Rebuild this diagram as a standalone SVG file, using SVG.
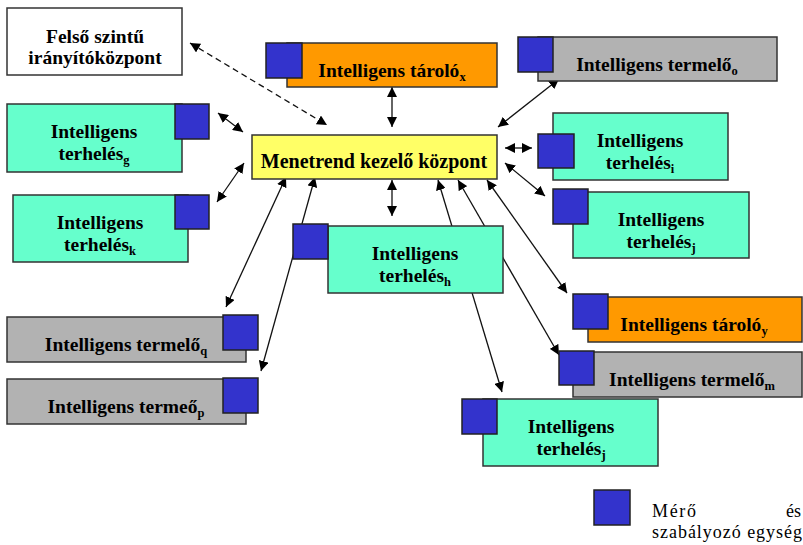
<svg xmlns="http://www.w3.org/2000/svg" width="803" height="545" viewBox="0 0 803 545">
<defs>
<marker id="ah" viewBox="0 0 10 10" refX="10" refY="5" markerWidth="10" markerHeight="10" markerUnits="userSpaceOnUse" orient="auto-start-reverse">
<path d="M0,0 L10,5 L0,10 z" fill="#000"/>
</marker>
<style>
.box{stroke:#333;stroke-width:1.5}
.white{fill:#fff}
.teal{fill:#66FFCC}
.orange{fill:#FF9900}
.gray{fill:#B2B2B2}
.yellow{fill:#FFFF66}
.sq{fill:#3333CC;stroke:#222;stroke-width:1.5}
.lbl{font-weight:bold;font-size:19.5px;fill:#000;text-anchor:middle}
.sub{font-size:12.5px}
.leg{font-size:18px;fill:#000}
.con{stroke:#111;stroke-width:1.3;fill:none;marker-start:url(#ah);marker-end:url(#ah)}
.dash{stroke-dasharray:6,4}
</style>
</defs>
<g id="connectors">
<line class="con dash" x1="190" y1="43" x2="327" y2="125"/>
<line class="con" x1="392" y1="87" x2="392" y2="127"/>
<line class="con" x1="559" y1="79" x2="498" y2="127"/>
<line class="con" x1="218" y1="113" x2="243" y2="132"/>
<line class="con" x1="505" y1="148" x2="532" y2="148"/>
<line class="con" x1="505" y1="163" x2="545" y2="196"/>
<line class="con" x1="217" y1="202" x2="244" y2="163"/>
<line class="con" x1="226" y1="307" x2="286" y2="177"/>
<line class="con" x1="261" y1="371" x2="315" y2="177"/>
<line class="con" x1="392" y1="180" x2="392" y2="216"/>
<line class="con" x1="438" y1="180" x2="502" y2="392"/>
<line class="con" x1="458" y1="180" x2="559" y2="355"/>
<line class="con" x1="487" y1="180" x2="567" y2="293"/>
</g>
<g font-family="'Liberation Serif', 'DejaVu Serif', serif">
<g id="felso">
<rect class="box white" x="7" y="8" width="175" height="67"/>
<text class="lbl" x="95" y="43">Felső szintű</text>
<text class="lbl" x="95" y="64">irányítóközpont</text>
</g>
<g id="tarolo_x">
<rect class="box orange" x="287" y="43" width="210" height="44"/>
<rect class="sq" x="266" y="43" width="36" height="35"/>
<text class="lbl" x="392" y="77">Intelligens tároló<tspan class="sub" dy="4">x</tspan></text>
</g>
<g id="termelo_o">
<rect class="box gray" x="538" y="37" width="239" height="44"/>
<rect class="sq" x="518" y="37" width="35" height="35"/>
<text class="lbl" x="657" y="71">Intelligens termelő<tspan class="sub" dy="4">o</tspan></text>
</g>
<g id="terheles_g">
<rect class="box teal" x="7" y="104" width="175" height="68"/>
<rect class="sq" x="175" y="104" width="34" height="35"/>
<text class="lbl" x="94" y="138">Intelligens</text>
<text class="lbl" x="94" y="160">terhelés<tspan class="sub" dy="4">g</tspan></text>
</g>
<g id="menetrend">
<rect class="box yellow" x="252" y="135" width="245" height="44"/>
<text class="lbl" x="374" y="168" style="font-size:20px">Menetrend kezelő központ</text>
</g>
<g id="terheles_i">
<rect class="box teal" x="553" y="113" width="175" height="67"/>
<rect class="sq" x="538" y="134" width="36" height="34"/>
<text class="lbl" x="640" y="147">Intelligens</text>
<text class="lbl" x="640" y="169">terhelés<tspan class="sub" dy="4">i</tspan></text>
</g>
<g id="terheles_j1">
<rect class="box teal" x="573" y="192" width="176" height="66"/>
<rect class="sq" x="553" y="189" width="35" height="35"/>
<text class="lbl" x="661" y="226">Intelligens</text>
<text class="lbl" x="661" y="248">terhelés<tspan class="sub" dy="4">j</tspan></text>
</g>
<g id="terheles_k">
<rect class="box teal" x="13" y="195" width="175" height="67"/>
<rect class="sq" x="175" y="195" width="34" height="34"/>
<text class="lbl" x="100" y="229">Intelligens</text>
<text class="lbl" x="100" y="251">terhelés<tspan class="sub" dy="4">k</tspan></text>
</g>
<g id="terheles_h">
<rect class="box teal" x="328" y="226" width="175" height="67"/>
<rect class="sq" x="293" y="224" width="35" height="35"/>
<text class="lbl" x="415" y="260">Intelligens</text>
<text class="lbl" x="415" y="282">terhelés<tspan class="sub" dy="4">h</tspan></text>
</g>
<g id="termelo_q">
<rect class="box gray" x="7" y="317" width="239" height="45"/>
<rect class="sq" x="223" y="315" width="35" height="35"/>
<text class="lbl" x="126" y="351">Intelligens termelő<tspan class="sub" dy="4">q</tspan></text>
</g>
<g id="termeo_p">
<rect class="box gray" x="7" y="379" width="239" height="45"/>
<rect class="sq" x="223" y="378" width="35" height="35"/>
<text class="lbl" x="126" y="413">Intelligens termeő<tspan class="sub" dy="4">p</tspan></text>
</g>
<g id="tarolo_y">
<rect class="box orange" x="588" y="297" width="214" height="45"/>
<rect class="sq" x="573" y="294" width="35" height="35"/>
<text class="lbl" x="694" y="331">Intelligens tároló<tspan class="sub" dy="4">y</tspan></text>
</g>
<g id="termelo_m">
<rect class="box gray" x="573" y="352" width="229" height="45"/>
<rect class="sq" x="559" y="351" width="35" height="34"/>
<text class="lbl" x="692" y="386">Intelligens termelő<tspan class="sub" dy="4">m</tspan></text>
</g>
<g id="terheles_j2">
<rect class="box teal" x="483" y="399" width="175" height="67"/>
<rect class="sq" x="462" y="399" width="35" height="35"/>
<text class="lbl" x="571" y="433">Intelligens</text>
<text class="lbl" x="571" y="455">terhelés<tspan class="sub" dy="4">j</tspan></text>
</g>
<g id="legend">
<rect class="sq" x="594" y="490" width="36" height="35"/>
<text class="leg" x="652" y="517" textLength="44" lengthAdjust="spacing">Mérő</text>
<text class="leg" x="801" y="517" style="text-anchor:end">és</text>
<text class="leg" x="652" y="538" textLength="150" lengthAdjust="spacing">szabályozó egység</text>
</g>
</g>
</svg>
